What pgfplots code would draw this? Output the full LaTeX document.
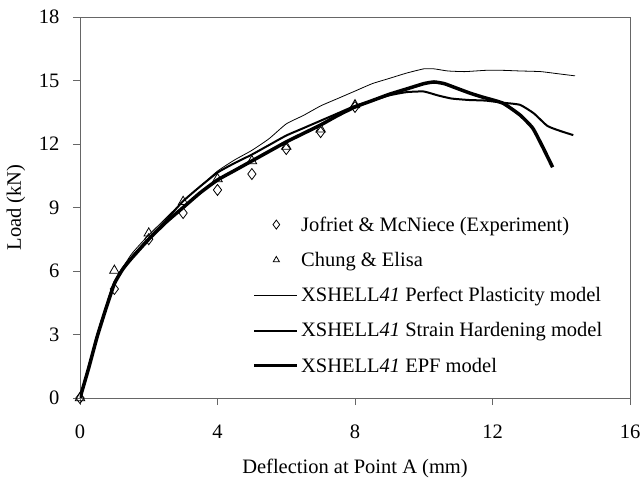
\documentclass[border=0pt]{standalone}
\usepackage{fontspec}
\setmainfont{Liberation Serif}
\usepackage{pgfplots}
\pgfplotsset{compat=1.18}
\pgfplotsset{
 lineleg/.style={legend image code/.code={\draw[##1] (0bp,0bp) -- (43bp,0bp);}},
 markleg/.style={legend image code/.code={\draw[##1, mark size=4.5bp] plot coordinates {(22bp,0bp)};}},
 smallmarkleg/.style={legend image code/.code={\draw[##1, mark size=3.5bp] plot coordinates {(22bp,0bp)};}},
}
\begin{document}
\begin{tikzpicture}[font=\fontsize{20.5bp}{24bp}\selectfont]
\begin{axis}[
  name=ax,
  scale only axis,
  width=550bp, height=381bp,
  xmin=0, xmax=16, ymin=0, ymax=18,
  xtick={0,4,8,12,16}, ytick={0,3,6,9,12,15,18},
  tick align=outside, tick pos=left,
  major tick length=7bp,
  axis line style={gray!80!black, line width=0.8bp},
  every tick/.style={gray!80!black, line width=0.8bp},
  /pgf/number format/assume math mode=true,
  xticklabel style={yshift=-16bp},
  yticklabel style={xshift=-10bp},
  xlabel={Deflection at Point A (mm)},
  ylabel={Load (kN)},
  xlabel style={yshift=-14bp},
  ylabel style={yshift=7bp},
  legend style={draw=none, fill=none, at={(0.308,0.487)}, anchor=north west,
    row sep=15.5bp, font=\fontsize{20.5bp}{24bp}\selectfont},
  legend cell align=left,
]
\addplot[only marks, mark=diamond, mark size=5.5bp, mark options={fill=white, line width=0.8bp}, markleg]
  coordinates {(0,0) (1,5.15) (2,7.5) (3,8.74) (4,9.83) (5,10.58) (6,11.76) (7,12.56) (8,13.75)};
\addlegendentry{Jofriet \& McNiece (Experiment)}
\addplot[only marks, mark=triangle, mark size=5.5bp, mark options={fill=white, line width=0.8bp}, smallmarkleg]
  coordinates {(0,0) (1,6.02) (2,7.78) (3,9.27) (4,10.35) (5,11.2) (6,11.88) (7,12.7) (8,13.84)};
\addlegendentry{Chung \& Elisa}
\addplot[black, line width=0.8bp, smooth, tension=0.3, lineleg]
  coordinates {(0,0) (0.25,1.5) (0.5,3.0) (0.75,4.3) (1,5.5) (1.5,6.8) (2,7.7) (2.5,8.5) (3,9.3) (3.5,10.0) (4,10.72) (4.5,11.25) (5,11.7) (5.5,12.25) (6,12.95) (6.5,13.35) (7,13.8) (7.5,14.15) (8,14.5) (8.5,14.85) (9,15.1) (9.5,15.35) (10,15.55) (10.3,15.55) (10.7,15.45) (11.2,15.42) (11.8,15.48) (12.3,15.48) (12.8,15.45) (13.4,15.42) (13.9,15.32) (14.4,15.22)};
\addlegendentry{XSHELL\textit{41} Perfect Plasticity model}
\addplot[black, line width=2bp, smooth, tension=0.3, lineleg]
  coordinates {(0,0) (0.25,1.45) (0.5,2.95) (0.75,4.25) (1,5.45) (1.25,6.15) (1.5,6.65) (2,7.55) (2.5,8.4) (3,9.3) (3.5,10.0) (4,10.65) (4.5,11.1) (5,11.5) (5.5,11.95) (6,12.4) (6.5,12.75) (7,13.1) (7.5,13.45) (8,13.8) (8.5,14.05) (9,14.3) (9.5,14.45) (10,14.48) (10.4,14.3) (10.8,14.15) (11.3,14.08) (11.8,14.05) (12.3,13.95) (12.8,13.85) (13.2,13.45) (13.6,12.85) (14.0,12.6) (14.35,12.42)};
\addlegendentry{XSHELL\textit{41} Strain Hardening model}
\addplot[black, line width=3.5bp, smooth, tension=0.3, lineleg]
  coordinates {(0,0) (0.25,1.4) (0.5,2.9) (0.75,4.2) (1,5.4) (1.25,6.1) (1.5,6.6) (2,7.5) (2.5,8.3) (3,9.0) (3.5,9.7) (4,10.3) (4.5,10.75) (5,11.2) (5.5,11.65) (6,12.1) (6.5,12.5) (7,12.9) (7.5,13.35) (8,13.75) (8.5,14.05) (9,14.35) (9.5,14.6) (10,14.85) (10.3,14.93) (10.6,14.85) (10.95,14.64) (11.35,14.4) (11.7,14.22) (12.3,13.93) (12.8,13.37) (13.17,12.75) (13.46,11.86) (13.75,10.9)};
\addlegendentry{XSHELL\textit{41} EPF model}
\end{axis}
\pgfresetboundingbox
\path[use as bounding box] ([shift={(-80bp,-83bp)}]ax.south west) rectangle ([shift={(13bp,17bp)}]ax.north east);
\end{tikzpicture}
\end{document}
